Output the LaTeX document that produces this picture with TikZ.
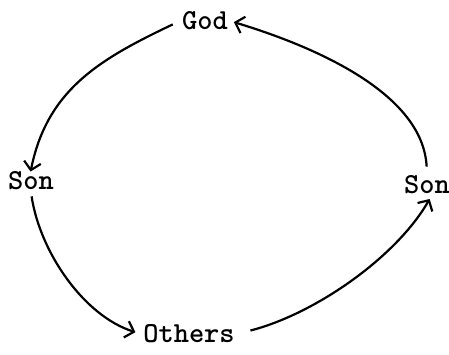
\documentclass[tikz,border=0pt]{standalone}
\usetikzlibrary{arrows.meta}
\begin{document}
\begin{tikzpicture}[x=1pt,y=1pt,
  lbl/.style={inner sep=2pt,font=\fontsize{29}{29}\selectfont\ttfamily\bfseries},
  arr/.style={line width=2.2pt,-{Straight Barb[length=8pt,width=17pt,line width=2.2pt]}}]
\useasboundingbox (0,0) rectangle (449,355);
\node[lbl] (god) at (205,334) {God};
\node[lbl] (sonL) at (31,174) {Son};
\node[lbl] (sonR) at (427,170) {Son};
\node[lbl] (oth) at (189,21) {Others};
\draw[arr,shorten <=8pt,shorten >=-2pt] (god.west) .. controls +(-80,-38) and +(16,80) .. (sonL.north);
\draw[arr,shorten <=4pt,shorten >=6pt] (sonL.south) .. controls +(9,-60) and +(-57,18) .. (oth.west);
\draw[arr,shorten <=14pt,shorten >=3pt] (oth.east) .. controls +(78,20) and +(-35,-61) .. (sonR.-70);
\draw[arr,shorten <=7pt,shorten >=4pt] (sonR.north) .. controls +(-4,80) and +(86,-26) .. (god.east);
\end{tikzpicture}
\end{document}
